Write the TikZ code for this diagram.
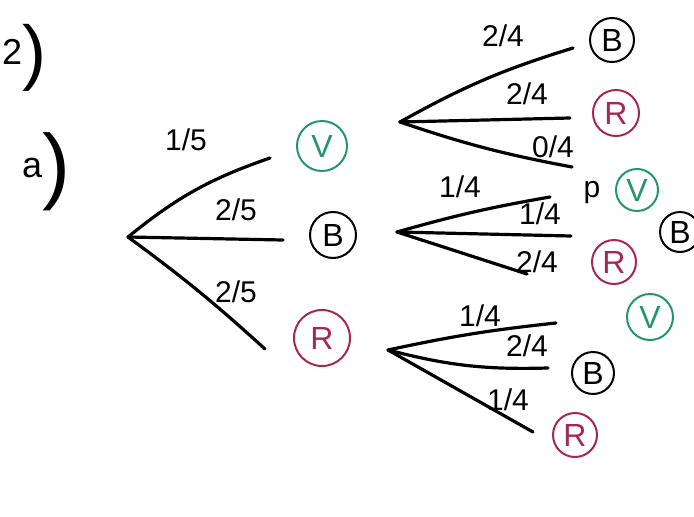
\documentclass[tikz,border=0pt]{standalone}
\usepackage{fontspec}
\setmainfont{Liberation Sans}
\usepackage{tikz}
\usetikzlibrary{positioning}

\definecolor{markgreen}{RGB}{35,150,110}
\definecolor{markred}{RGB}{165,40,80}

\begin{document}
\begin{tikzpicture}[
x=1pt, y=-1pt,
every node/.style={
font=\fontsize{30}{34}\selectfont,
inner sep=1pt
},
branch/.style={line width=3.2pt, line cap=round},
leaf/.style={
draw,
circle,
line width=2pt,
minimum size=46pt,
inner sep=0pt,
font=\fontsize{32}{36}\selectfont
},
greenleaf/.style={leaf, draw=markgreen, text=markgreen},
redleaf/.style={leaf, draw=markred, text=markred}
]
\useasboundingbox (0,0) rectangle (694,517);

\node (part) at (24,58) {\fontsize{36}{40}\selectfont 2\raisebox{-12pt}{\fontsize{72}{72}\selectfont )}};
\node (sub) at (46,172) {\fontsize{36}{40}\selectfont a\raisebox{-16pt}{\fontsize{84}{84}\selectfont )}};

% first draw
\coordinate (root) at (128,237);
\coordinate (e1v) at (270,158);
\coordinate (e1b) at (283,240);
\coordinate (e1r) at (265,349);

\draw[branch] (root) to[bend left=10] (e1v);
\draw[branch] (root) -- (e1b);
\draw[branch] (root) to[bend left=3] (e1r);

\node (p1v) at (186,140) {1/5};
\node (p1b) at (236,210) {2/5};
\node (p1r) at (236,292) {2/5};

\node[greenleaf, minimum size=50pt] (v1) at (322,146) {V};
\node[leaf] (b1) at (333,235) {B};
\node[redleaf, minimum size=56pt] (r1) at (322,338) {R};

% second draw after V
\coordinate (n2) at (400,122);
\coordinate (e2b) at (573,48);
\coordinate (e2r) at (570,118);
\coordinate (e2v) at (572,167);

\draw[branch] (n2) to[bend left=6] (e2b);
\draw[branch] (n2) -- (e2r);
\draw[branch] (n2) to[bend right=4] (e2v);

\node (p2b) at (503,36) {2/4};
\node (p2r) at (527,94) {2/4};
\node (p2v) at (553,147) {0/4};

\node[leaf, minimum size=44pt] (b2) at (612,40) {B};
\node[redleaf, minimum size=46pt] (r2) at (616,113) {R};

% second draw after B
\coordinate (n3) at (397,232);
\coordinate (e3v) at (550,197);
\coordinate (e3b) at (571,236);
\coordinate (e3r) at (527,274);

\draw[branch] (n3) to[bend left=3] (e3v);
\draw[branch] (n3) -- (e3b);
\draw[branch] (n3) -- (e3r);

\node (p3v) at (460,187) {1/4};
\node (p3b) at (540,214) {1/4};
\node (p3r) at (537,262) {2/4};

\node (mark) at (592,193) {p};
\node[greenleaf, minimum size=42pt] (v3) at (637,190) {V};
\node[leaf, minimum size=40pt] (b3) at (680,232) {B};
\node[redleaf, minimum size=44pt] (r3) at (614,262) {R};

% second draw after R
\coordinate (n4) at (388,350);
\coordinate (e4v) at (556,323);
\coordinate (e4b) at (548,368);
\coordinate (e4r) at (533,432);

\draw[branch] (n4) to[bend left=3] (e4v);
\draw[branch] (n4) to[bend right=8] (e4b);
\draw[branch] (n4) -- (e4r);

\node (p4v) at (480,316) {1/4};
\node (p4b) at (527,346) {2/4};
\node (p4r) at (508,400) {1/4};

\node[greenleaf, minimum size=46pt] (v4) at (650,317) {V};
\node[leaf, minimum size=42pt] (b4) at (593,373) {B};
\node[redleaf, minimum size=44pt] (r4) at (575,435) {R};

\end{tikzpicture}
\end{document}
